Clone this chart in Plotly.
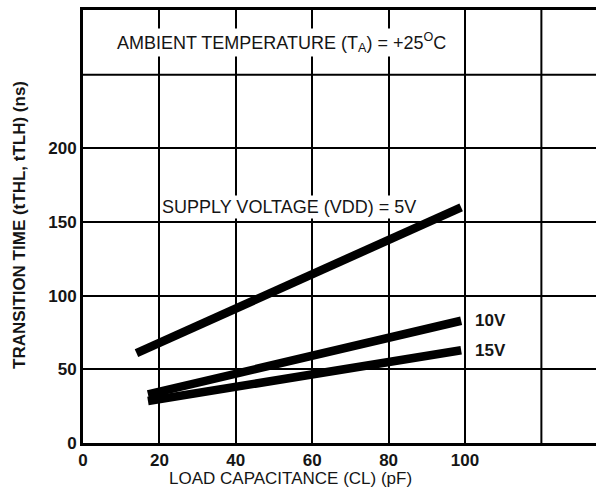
import plotly.graph_objects as go

# Data
cap_5v = [14, 99]
t_5v = [61, 160]
cap_10v = [17, 99]
t_10v = [33, 83]
cap_15v = [17, 99]
t_15v = [28.5, 63]

x_ticks = [0, 20, 40, 60, 80, 100]
x_labels = ["0", "20", "40", "60", "80", "100"]
y_ticks = [0, 50, 100, 150, 200]
y_labels = ["0", "50", "100", "150", "200"]
x_extra_grid = [120]
y_extra_grid = [250]

FONT = "Liberation Sans"
INK = "#151515"

fig = go.Figure()
for xs, ys in [(cap_5v, t_5v), (cap_10v, t_10v), (cap_15v, t_15v)]:
    fig.add_trace(go.Scatter(x=xs, y=ys, mode="lines",
                             line=dict(color="black", width=8.5),
                             showlegend=False, hoverinfo="skip"))

fig.update_layout(
    width=596, height=493,
    margin=dict(l=83, r=0, t=10, b=50),
    paper_bgcolor="white", plot_bgcolor="white",
    font=dict(family=FONT, color=INK),
    xaxis=dict(range=[0, 134.3], tickmode="array", tickvals=x_ticks, ticktext=x_labels,
               automargin=False,
               showgrid=True, gridcolor="black", gridwidth=2,
               showline=True, linecolor="black", linewidth=3, mirror=True,
               zeroline=False, ticks="", ticklen=0,
               tickfont=dict(family=FONT, size=17, color=INK, weight="bold")),
    yaxis=dict(range=[0, 294], tickmode="array", tickvals=y_ticks, ticktext=y_labels,
               automargin=False,
               showgrid=True, gridcolor="black", gridwidth=2,
               showline=True, linecolor="black", linewidth=3,
               zeroline=False, ticks="", ticklen=0,
               tickfont=dict(family=FONT, size=17, color=INK, weight="bold")),
)

# extra unlabeled gridlines, placed through the axes' data scales
for gx in x_extra_grid:
    fig.add_shape(type="line", xref="x", yref="paper", x0=gx, x1=gx, y0=0, y1=1,
                  line=dict(color="black", width=2), layer="below")
for gy in y_extra_grid:
    fig.add_shape(type="line", xref="paper", yref="y", x0=0, x1=1, y0=gy, y1=gy,
                  line=dict(color="black", width=2), layer="below")

fig.add_annotation(x=54, y=160, text="SUPPLY VOLTAGE (VDD) = 5V", showarrow=False,
                   font=dict(family=FONT, size=18, color=INK), bgcolor="white")
fig.add_annotation(x=52, y=272, text="AMBIENT TEMPERATURE (T<sub>A</sub>) = +25<sup>O</sup>C",
                   showarrow=False, font=dict(family=FONT, size=18, color=INK), bgcolor="white")
fig.add_annotation(x=102, y=83, text="10V", showarrow=False, xanchor="left",
                   font=dict(family=FONT, size=17, color=INK, weight="bold"))
fig.add_annotation(x=102, y=62.7, text="15V", showarrow=False, xanchor="left",
                   font=dict(family=FONT, size=17, color=INK, weight="bold"))
# axis titles
fig.add_annotation(xref="paper", yref="paper", x=(290 - 83) / 513, y=-35 / 433,
                   text="LOAD CAPACITANCE (CL) (pF)", showarrow=False, yanchor="middle",
                   font=dict(family=FONT, size=17, color=INK))
fig.add_annotation(xref="paper", yref="paper", x=-64 / 513, y=(443 - 225) / 433,
                   text="TRANSITION TIME (tTHL, tTLH) (ns)", showarrow=False, textangle=-90,
                   xanchor="center", yanchor="middle",
                   font=dict(family=FONT, size=17, color=INK, weight="bold"))

fig.write_html("out.html", config={"displayModeBar": False},
               post_script="document.body.style.margin='0';document.body.style.overflow='hidden';"
                           "document.documentElement.style.overflow='hidden';")
